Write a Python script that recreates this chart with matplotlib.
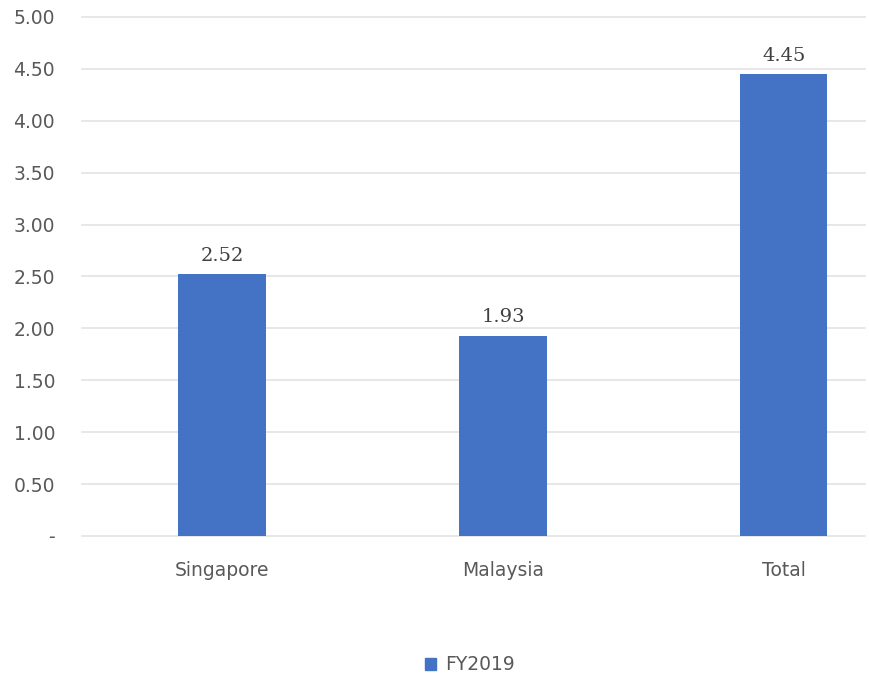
import matplotlib.pyplot as plt
from matplotlib.patches import Patch

categories = ["Singapore", "Malaysia", "Total"]
values = [2.52, 1.93, 4.45]
series_name = "FY2019"
y_ticks = [0, 0.5, 1.0, 1.5, 2.0, 2.5, 3.0, 3.5, 4.0, 4.5, 5.0]

bar_color = "#4472C4"
text_color = "#595959"
plt.rcParams["font.family"] = ["DejaVu Sans"]

fig = plt.figure(figsize=(8.7, 6.77), dpi=100)
ax = fig.add_axes([0.0937, 0.2083, 0.901, 0.7666])

x = range(len(categories))
bars = ax.bar(x, values, width=0.31, color=bar_color, zorder=3)

for b, v in zip(bars, values):
    ax.text(b.get_x() + b.get_width() / 2, v + 0.09, f"{v:.2f}",
            ha="center", va="bottom", fontsize=14, color="#404040",
            family="DejaVu Serif")

ax.set_xlim(-0.5, 2.29)
ax.set_ylim(0, 5.0)
ax.set_yticks(y_ticks)
ax.set_yticklabels(["-" if t == 0 else f"{t:.2f}" for t in y_ticks])
ax.set_xticks(list(x))
ax.set_xticklabels(categories)

ax.grid(axis="y", color="#E3E3E3", linewidth=1.2, zorder=0)
for gl in ax.get_ygridlines():
    gl.set_clip_on(False)
ax.tick_params(axis="both", length=0, labelsize=13.5, colors=text_color)
ax.tick_params(axis="y", pad=19)
ax.tick_params(axis="x", pad=18)
for s in ax.spines.values():
    s.set_visible(False)

fig.legend(handles=[Patch(color=bar_color, label=series_name)],
           loc="center", bbox_to_anchor=(0.54, 0.018), frameon=False,
           fontsize=13.5, labelcolor=text_color, handlelength=0.6,
           handleheight=0.6, handletextpad=0.5)

fig.savefig("out.png", dpi=100)
